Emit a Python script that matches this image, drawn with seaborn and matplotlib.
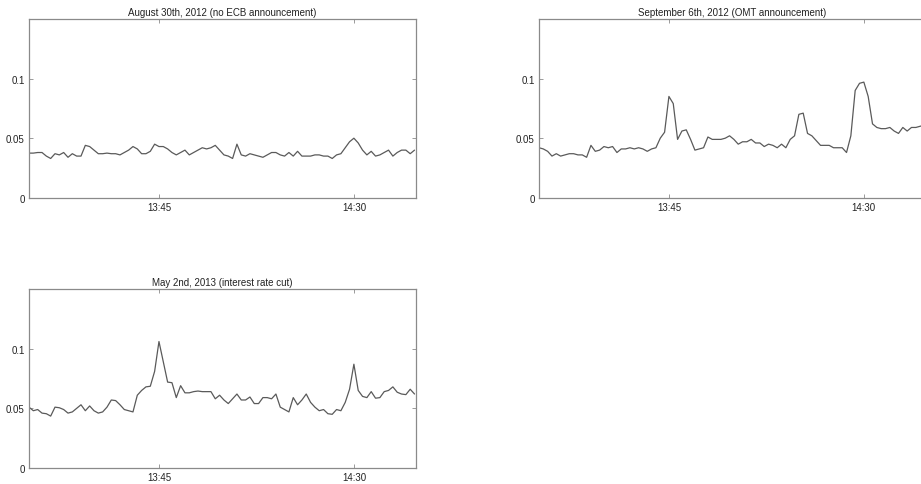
import numpy as np
import pandas as pd
import matplotlib
matplotlib.use("Agg")
import matplotlib.pyplot as plt
import matplotlib.dates as mdates
import seaborn as sns

# one value per minute, 13:15 .. 14:44
start = "13:15"
aug30 = [0.0375, 0.0375, 0.038, 0.038, 0.035, 0.033, 0.037, 0.036, 0.038, 0.034,
         0.037, 0.035, 0.035, 0.044, 0.043, 0.040, 0.037, 0.037, 0.0375, 0.037,
         0.037, 0.036, 0.038, 0.040, 0.043, 0.041, 0.037, 0.037, 0.039, 0.045,
         0.043, 0.043, 0.041, 0.038, 0.036, 0.038, 0.040, 0.036, 0.038, 0.040,
         0.042, 0.041, 0.042, 0.044, 0.040, 0.036, 0.035, 0.033, 0.045, 0.036,
         0.035, 0.037, 0.036, 0.035, 0.034, 0.036, 0.038, 0.038, 0.036, 0.035,
         0.038, 0.035, 0.039, 0.035, 0.035, 0.035, 0.036, 0.036, 0.035, 0.035,
         0.033, 0.036, 0.037, 0.042, 0.047, 0.050, 0.046, 0.040, 0.036, 0.039,
         0.035, 0.036, 0.038, 0.040, 0.035, 0.038, 0.040, 0.040, 0.037, 0.040]
sep06 = [0.042, 0.041, 0.039, 0.035, 0.037, 0.035, 0.036, 0.037, 0.037, 0.036,
         0.036, 0.034, 0.044, 0.039, 0.040, 0.043, 0.042, 0.043, 0.038, 0.041,
         0.041, 0.042, 0.041, 0.042, 0.041, 0.039, 0.041, 0.042, 0.050, 0.055,
         0.085, 0.079, 0.049, 0.056, 0.057, 0.049, 0.040, 0.041, 0.042, 0.051,
         0.049, 0.049, 0.049, 0.050, 0.052, 0.049, 0.045, 0.047, 0.047, 0.049,
         0.046, 0.046, 0.043, 0.045, 0.044, 0.042, 0.045, 0.042, 0.049, 0.052,
         0.070, 0.071, 0.054, 0.052, 0.048, 0.044, 0.044, 0.044, 0.042, 0.042,
         0.042, 0.038, 0.052, 0.090, 0.096, 0.097, 0.085, 0.062, 0.059, 0.058,
         0.058, 0.059, 0.056, 0.054, 0.059, 0.056, 0.059, 0.059, 0.060, 0.061]
may02 = [0.051, 0.048, 0.049, 0.046, 0.0455, 0.0435, 0.051, 0.0505, 0.049, 0.046,
         0.047, 0.050, 0.053, 0.048, 0.052, 0.048, 0.046, 0.047, 0.051, 0.057,
         0.0565, 0.053, 0.049, 0.048, 0.047, 0.061, 0.065, 0.068, 0.0685, 0.081,
         0.106, 0.089, 0.072, 0.0715, 0.059, 0.069, 0.063, 0.063, 0.064, 0.0645,
         0.064, 0.064, 0.064, 0.058, 0.061, 0.057, 0.054, 0.058, 0.062, 0.057,
         0.057, 0.0595, 0.054, 0.054, 0.059, 0.059, 0.058, 0.062, 0.051, 0.049,
         0.047, 0.059, 0.053, 0.057, 0.062, 0.055, 0.051, 0.048, 0.049, 0.0455,
         0.045, 0.049, 0.048, 0.055, 0.066, 0.087, 0.065, 0.060, 0.059, 0.064,
         0.0585, 0.059, 0.064, 0.065, 0.068, 0.0635, 0.062, 0.0615, 0.066, 0.062]
titles = ["August 30th, 2012 (no ECB announcement)",
          "September 6th, 2012 (OMT announcement)",
          "May 2nd, 2013 (interest rate cut)"]
xtick_labels = ["13:45", "14:30"]
ytick_values = [0, 0.05, 0.1]

sns.set_style("ticks", {
    "xtick.direction": "in", "ytick.direction": "in",
    "axes.edgecolor": "#8a8a8a",
})
plt.rcParams["font.family"] = ["Liberation Sans", "DejaVu Sans"]

day = "2000-01-01 "
times = pd.date_range(day + start, periods=len(aug30), freq="min")
series = [aug30, sep06, may02]

fig = plt.figure(figsize=(9.21, 4.85), dpi=100)
positions = [[0.0315, 0.590, 0.420, 0.369],
             [0.5852, 0.590, 0.420, 0.369],
             [0.0315, 0.033, 0.420, 0.369]]

for vals, title, pos in zip(series, titles, positions):
    ax = fig.add_axes(pos)
    df = pd.DataFrame({"time": times, "value": vals})
    sns.lineplot(data=df, x="time", y="value", ax=ax, color="#5a5a5a", linewidth=0.9)
    ax.set_xlim(times[0], times[0] + pd.Timedelta(minutes=89.3))
    ax.set_ylim(0, 0.15)
    ax.set_xticks([pd.Timestamp(day + t) for t in xtick_labels])
    ax.xaxis.set_major_formatter(mdates.DateFormatter("%H:%M"))
    ax.set_yticks(ytick_values)
    ax.set_yticklabels(["0", "0.05", "0.1"])
    ax.tick_params(axis="both", labelsize=7, length=3, width=0.6, color="#8a8a8a",
                   top=True, right=True, pad=3, labelcolor="#222222")
    for s in ax.spines.values():
        s.set_linewidth(0.9)
    ax.set_xlabel("")
    ax.set_ylabel("")
    ax.set_title(title, fontsize=7, pad=3, color="#222222")

fig.savefig("out.png", dpi=100)
